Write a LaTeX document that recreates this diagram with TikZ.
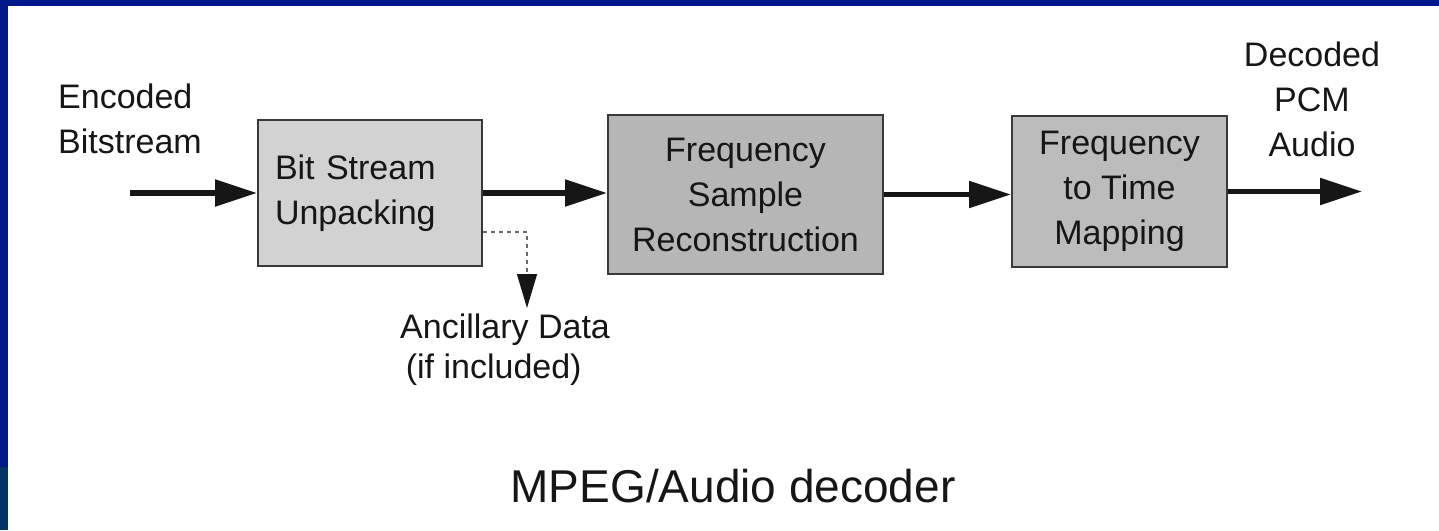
\documentclass[tikz,border=0pt]{standalone}
\usepackage{fontspec}
\setmainfont{Liberation Sans}
\usetikzlibrary{arrows.meta,positioning}

\definecolor{slideblue}{RGB}{0,24,140}
\definecolor{slideteal}{RGB}{0,52,98}
\definecolor{ink}{RGB}{22,22,22}
\definecolor{lightbox}{RGB}{210,210,210}
\definecolor{darkbox}{RGB}{182,182,182}
\definecolor{midbox}{RGB}{188,188,188}

\begin{document}
\begin{tikzpicture}[x=1pt, y=-1pt,
        every node/.style={font=\fontsize{34}{45}\selectfont, text=ink},
        block/.style={draw=ink!85, line width=2pt, inner sep=0pt},
        flow/.style={draw=ink, line width=5.5pt, -{Triangle[length=42pt,width=26pt]}},
        side/.style={draw=ink!65, line width=1.5pt, dash pattern=on 4pt off 4pt,
            -{Triangle[length=34pt,width=20pt,color=ink,fill=ink]}},
        tag/.style={inner sep=0pt}]

    \useasboundingbox (0,0) rectangle (1439,530);
    \fill[white] (0,0) rectangle (1439,530);
    \fill[slideblue] (0,0) rectangle (1439,6);
    \fill[slideblue] (0,0) rectangle (8,467);
    \fill[slideteal] (0,467) rectangle (8,530);

    \node[block, fill=lightbox, minimum width=224pt, minimum height=146pt,
        text width=190pt, align=left] (unpack) at (370,193) {Bit Stream\\Unpacking};
    \node[block, fill=darkbox, minimum width=275pt, minimum height=159pt,
        align=center] (recon) at (745.5,194.5) {Frequency\\Sample\\Reconstruction};
    \node[block, fill=midbox, minimum width=215pt, minimum height=151pt,
        align=center] (remap) at (1119.5,191.5) {Frequency\\to Time\\Mapping};

    \node[tag, align=left, anchor=north west] (encin) at (58,84) {Encoded\\Bitstream};
    \node[tag, align=center, anchor=north] (pcmout) at (1312,42) {Decoded\\PCM\\Audio};
    \node[tag, align=left, anchor=north west, font=\fontsize{34}{40}\selectfont]
        (ancil) at (400,314) {Ancillary Data\\\,(if included)};
    \node[tag, anchor=base, font=\fontsize{46}{50}\selectfont] (title) at (733,502)
        {MPEG/Audio decoder};

    \coordinate (src) at (130,193);
    \coordinate (sink) at (1362,191.5);
    \coordinate (tap) at (527,232);

    \draw[flow] (src) -- (src -| unpack.west);
    \draw[flow] (unpack.east) -- (unpack.east -| recon.west);
    \draw[flow] (recon.east) -- (recon.east -| remap.west);
    \draw[flow] (remap.east) -- (sink);
    \draw[side] (unpack.east |- tap) -- (tap) -- ([yshift=6pt]tap |- ancil.north);
\end{tikzpicture}
\end{document}
